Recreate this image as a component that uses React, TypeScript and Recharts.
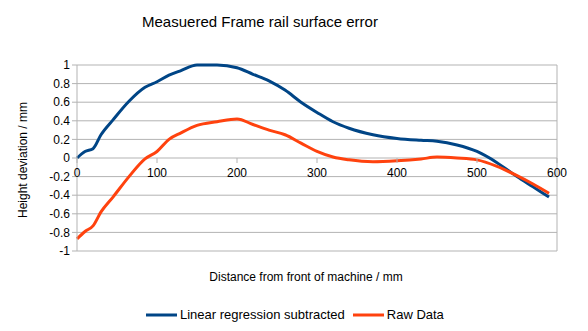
import { LineChart, Line, XAxis, YAxis, CartesianGrid, ReferenceLine } from "recharts";

const distances = [0, 10, 20, 30, 45, 65, 85, 100, 115, 130, 150, 175, 200, 220, 240, 260, 280, 300, 320, 340, 370, 400, 430, 450, 475, 500, 525, 550, 570, 590];
const regressionSubtracted = [0, 0.07, 0.1, 0.25, 0.41, 0.61, 0.76, 0.82, 0.89, 0.94, 1.0, 1.0, 0.97, 0.9, 0.83, 0.73, 0.6, 0.49, 0.39, 0.32, 0.25, 0.21, 0.19, 0.18, 0.14, 0.07, -0.05, -0.2, -0.31, -0.42];
const rawData = [-0.87, -0.79, -0.73, -0.58, -0.42, -0.2, -0.01, 0.07, 0.2, 0.27, 0.35, 0.39, 0.42, 0.36, 0.3, 0.25, 0.16, 0.07, 0.01, -0.02, -0.04, -0.03, -0.01, 0.01, 0, -0.02, -0.09, -0.19, -0.28, -0.38];
const xTicks = [0, 100, 200, 300, 400, 500, 600];
const yTicks = [-1, -0.8, -0.6, -0.4, -0.2, 0, 0.2, 0.4, 0.6, 0.8, 1];
const series = [
  { key: "lin", name: "Linear regression subtracted", color: "#004586" },
  { key: "raw", name: "Raw Data", color: "#ff420e" },
];

const W = 588;
const H = 331;
const TOP = 65;
const BOTTOM = 80;
const X_AXIS_H = 20;
const PLOT_H = H - TOP - BOTTOM;
// y domain is symmetric, so the zero line sits halfway down the plot
const ZERO_Y = TOP + PLOT_H / 2;

const FONT = "'Liberation Sans', Arial, sans-serif";
const GRID = "#b3b3b3";

const data = distances.map((d, i) => ({ d, lin: regressionSubtracted[i], raw: rawData[i] }));

function ZeroTick({ x, payload }: any) {
  return (
    <g>
      <line x1={x} x2={x} y1={ZERO_Y} y2={ZERO_Y + 5} stroke={GRID} />
      <text x={x} y={ZERO_Y + 19} textAnchor="middle" fontSize={12} fontFamily={FONT} fill="#000">
        {payload.value}
      </text>
    </g>
  );
}

export default function App() {
  return (
    <div style={{ position: "absolute", left: 0, top: 0, width: W, height: H, background: "#fff", fontFamily: FONT }}>
      <div style={{ position: "absolute", left: 0, width: 520, top: 13, textAlign: "center", fontSize: 15 }}>
        Measuered Frame rail surface error
      </div>
      <div
        style={{
          position: "absolute", left: 23, top: 160, fontSize: 12, whiteSpace: "nowrap",
          transform: "translate(-50%, -50%) rotate(-90deg)",
        }}
      >
        Height deviation / mm
      </div>
      <div style={{ position: "absolute", left: 0, width: 612, top: 270, textAlign: "center", fontSize: 12 }}>
        Distance from front of machine / mm
      </div>
      <div
        style={{
          position: "absolute", left: 146, top: 307, display: "flex", alignItems: "center", gap: 8, fontSize: 13,
        }}
      >
        {series.map((s) => (
          <div key={s.key} style={{ display: "flex", alignItems: "center" }}>
            <svg width={31} height={6} style={{ marginRight: 3 }}>
              <line x1={0} x2={31} y1={3} y2={3} stroke={s.color} strokeWidth={3} />
            </svg>
            <span>{s.name}</span>
          </div>
        ))}
      </div>
      <LineChart width={W} height={H} data={data} margin={{ top: TOP, right: 31, bottom: BOTTOM - X_AXIS_H, left: 30 }}>
        <CartesianGrid vertical={false} stroke={GRID} />
        <XAxis
          dataKey="d"
          type="number"
          domain={[0, 600]}
          ticks={xTicks}
          axisLine={false}
          tickLine={false}
          height={X_AXIS_H}
          tick={<ZeroTick />}
          interval={0}
        />
        <YAxis
          domain={[-1, 1]}
          ticks={yTicks}
          width={47}
          axisLine={{ stroke: GRID }}
          tickLine={{ stroke: GRID }}
          tickSize={5}
          tick={{ fontSize: 12, fontFamily: FONT, fill: "#000" }}
          interval={0}
        />
        <ReferenceLine x={600} stroke={GRID} />
        {series.map((s) => (
          <Line
            key={s.key}
            type="monotone"
            dataKey={s.key}
            name={s.name}
            stroke={s.color}
            strokeWidth={3}
            dot={false}
            isAnimationActive={false}
          />
        ))}
      </LineChart>
    </div>
  );
}
